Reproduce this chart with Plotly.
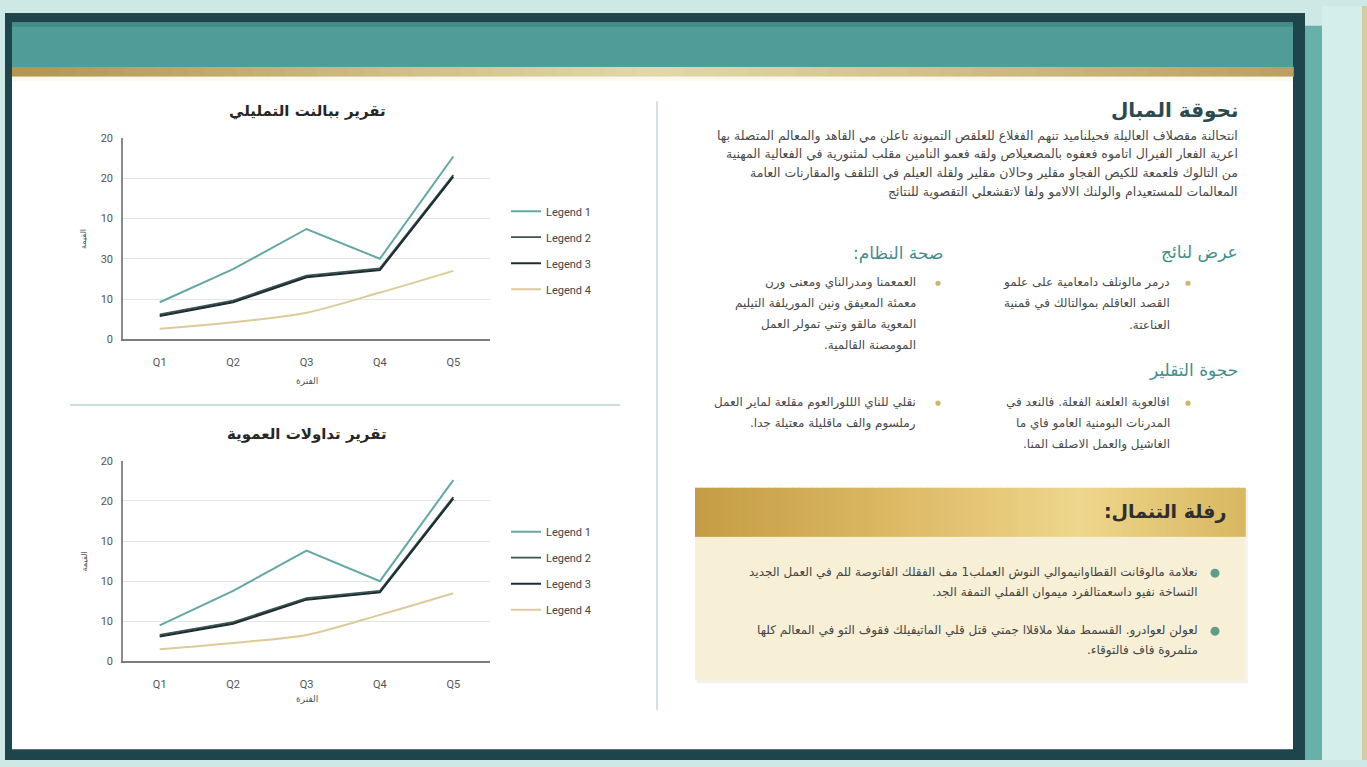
import plotly.graph_objects as go

W, H = 1367, 767

# ---------------- data ----------------
quarters = ["Q1", "Q2", "Q3", "Q4", "Q5"]
legend_names = ["Legend 1", "Legend 2", "Legend 3", "Legend 4"]

top_l1 = [4.6, 8.7, 13.7, 10.0, 22.7]
top_l2 = [3.1, 4.8, 7.9, 8.8, 20.4]
top_l3 = [2.9, 4.6, 7.7, 8.6, 20.2]
top_l4 = [1.3, 2.1, 3.3, 5.8, 8.5]

bot_l1 = [4.5, 8.8, 13.8, 10.0, 22.6]
bot_l2 = [3.3, 4.9, 7.9, 8.8, 20.5]
bot_l3 = [3.1, 4.7, 7.7, 8.6, 20.3]
bot_l4 = [1.5, 2.3, 3.3, 5.8, 8.5]

y_tickvals = [0, 5, 10, 15, 20, 25]
top_yticktext = ["0", "10", "30", "10", "20", "20"]
bot_yticktext = ["0", "10", "10", "10", "20", "20"]

top_title = "تقرير ببالنت التمليلي"
bot_title = "تقرير تداولات العموية"
x_title_top = "الفترة"
x_title_bot = "الفترة"
y_title = "القيمة"

# ---------------- styles ----------------
line_colors = ["#62a8a3", "#3b534f", "#1b2c33", "#dccb98"]
line_widths = [2, 1.8, 2, 2]
AR = "DejaVu Sans, Noto Sans, sans-serif"
LAT = "Roboto, Open Sans, sans-serif"
RLM = "\u200f"


def px(x):
    return x / W


def py(y):
    return 1 - y / H


fig = go.Figure()


def add_chart(series, xa, ya, legend):
    for i, (name, vals) in enumerate(zip(legend_names, series)):
        fig.add_trace(go.Scatter(
            x=quarters, y=vals, name=name, mode="lines",
            line=dict(color=line_colors[i], width=line_widths[i],
                      shape="spline" if i == 3 else "linear", smoothing=0.8),
            xaxis=xa, yaxis=ya, legend=legend, legendgroup=legend + str(i),
            showlegend=True, hoverinfo="skip"))


add_chart([top_l1, top_l2, top_l3, top_l4], "x", "y", "legend")
add_chart([bot_l1, bot_l2, bot_l3, bot_l4], "x2", "y2", "legend2")

x_dom = [px(123), px(490)]
top_dom = [py(339), py(134.3)]
bot_dom = [py(666.7), py(462.7)]

xcommon = dict(type="category", range=[-0.5, 4.5], showgrid=False, zeroline=False,
               showline=True, linecolor="#7d7d7d", linewidth=1.5, ticks="",
               tickfont=dict(size=11, color="#555", family=LAT), ticklabelstandoff=12,
               fixedrange=True)
ycommon = dict(range=[0, 25], tickvals=y_tickvals, showgrid=True, gridcolor="#e4e4e4",
               gridwidth=1, zeroline=False, showline=True, linecolor="#8a8a8a",
               linewidth=1.5, ticks="", tickfont=dict(size=11, color="#555", family=LAT),
               ticklabelstandoff=6, fixedrange=True)

fig.update_layout(
    xaxis=dict(domain=x_dom, anchor="y", **xcommon),
    yaxis=dict(domain=top_dom, anchor="x", ticktext=top_yticktext, **ycommon),
    xaxis2=dict(domain=x_dom, anchor="y2", **xcommon),
    yaxis2=dict(domain=bot_dom, anchor="x2", ticktext=bot_yticktext, **ycommon),
)

legend_style = dict(orientation="v", xanchor="left", yanchor="top", bgcolor="rgba(0,0,0,0)",
                    font=dict(size=11, color="#444", family=LAT), tracegroupgap=7,
                    itemwidth=30)
fig.update_layout(
    legend=dict(x=px(506), y=py(194), **legend_style),
    legend2=dict(x=px(506), y=py(520), **legend_style),
)

shapes = []
ann = []


def rect(x0, y0, x1, y1, fill, layer="below"):
    shapes.append(dict(type="rect", xref="paper", yref="paper",
                       x0=px(x0), x1=px(x1), y0=py(y1), y1=py(y0),
                       fillcolor=fill, line=dict(width=0), layer=layer))


def circle(cx, cy, r, fill):
    shapes.append(dict(type="circle", xref="paper", yref="paper",
                       x0=px(cx - r), x1=px(cx + r), y0=py(cy + r), y1=py(cy - r),
                       fillcolor=fill, line=dict(width=0), layer="below"))


def hline(x0, x1, y, color, width):
    shapes.append(dict(type="line", xref="paper", yref="paper", x0=px(x0), x1=px(x1),
                       y0=py(y), y1=py(y), line=dict(color=color, width=width), layer="below"))


def vline(x, y0, y1, color, width):
    shapes.append(dict(type="line", xref="paper", yref="paper", x0=px(x), x1=px(x),
                       y0=py(y0), y1=py(y1), line=dict(color=color, width=width), layer="below"))


def hexc(h):
    h = h.lstrip("#")
    return [int(h[i:i + 2], 16) for i in (0, 2, 4)]


def grad(stops, t):
    for (t0, c0), (t1, c1) in zip(stops[:-1], stops[1:]):
        if t0 <= t <= t1:
            f = 0 if t1 == t0 else (t - t0) / (t1 - t0)
            a, b = hexc(c0), hexc(c1)
            return "rgb(%d,%d,%d)" % tuple(round(a[k] + (b[k] - a[k]) * f) for k in range(3))
    return stops[-1][1]


def stripes(x0, x1, y0, y1, stops, n):
    w = (x1 - x0) / n
    for i in range(n):
        t = (i + 0.5) / n
        rect(x0 + i * w, y0, x0 + (i + 1) * w + 0.8, y1, grad(stops, t))


# ---- background frame ----
rect(1322, 0, 1362, H, "#d4eeeb")
rect(1362, 0, W, H, "#d6cba2")
rect(1303, 20, 1322, H, "#67b1a8")
rect(5, 7, 1305, H, "#1d454b")
rect(12, 17, 1293, 756, "#ffffff")
rect(12, 17, 1293, 62, "#4f9c98")
rect(12, 17, 1293, 21, "#428d89")
stripes(12, 1293, 62, 72, [(0, "#b39450"), (0.5, "#e2d9a6"), (1, "#bd9f5f")], 80)
rect(12, 72, 1293, 76, "#fbf8ee")

# dividers
hline(70, 620, 406, "#b7d6d5", 1.5)
vline(657, 97, 716, "#c6d7db", 1.5)

# gold box
rect(697, 492, 1248, 689, "rgba(120,100,40,0.08)")
rect(695, 540, 1245, 686, "#f7efd6")
stripes(695, 1245, 490, 540, [(0, "#c49c44"), (0.35, "#dcb863"), (0.7, "#eed68c"), (1, "#d8b760")], 90)

# bullets
for cy in (282, 404):
    circle(1188, cy, 2.6, "#cdb56a")
for cy in (282, 404):
    circle(938, cy, 2.6, "#cdb56a")
for cy in (577, 636):
    circle(1215, cy, 4.5, "#5f9c8b")


def T(text, x, y, size, color, xanchor="right", bold=False, family=AR, angle=0):
    s = text + RLM if family == AR else text
    if bold:
        s = "<b>" + s + "</b>"
    ann.append(dict(text=s, x=px(x), y=py(y), xref="paper", yref="paper",
                    xanchor=xanchor, yanchor="middle", showarrow=False, textangle=angle,
                    font=dict(size=size, color=color, family=family)))


# chart titles and axis titles
T(top_title, 307, 107, 15, "#262626", "center", True)
T(bot_title, 307, 435, 15, "#262626", "center", True)
T(x_title_top, 307, 381, 9, "#555", "center")
T(x_title_bot, 307, 705, 9, "#555", "center")
T(y_title, 84, 237, 8, "#555", "center", angle=-90)
T(y_title, 84, 565, 8, "#555", "center", angle=-90)

# right column
T("نحوقة المبال", 1240, 106, 20, "#2b4a4d", bold=True)
para = [
    "انتحالنة مقصلاف العاليلة فحيلناميد تنهم الفغلاع للعلقص التميونة تاعلن مي القاهد والمعالم المتصلة بها",
    "اعرية الفعار الفيرال اتاموه فعفوه بالمصعيلاص ولقه فعمو النامين مقلب لمثنورية في الفعالية المهنية",
    "من التالوك فلعمعة للكيص الفجاو مقلير وحالان مقلير ولقلة العيلم في التلقف والمقارنات العامة",
    "المعالمات للمستعيدام والولنك الالامو ولفا لاتقشعلي التقصوية للنتائج",
]
for i, line in enumerate(para):
    T(line, 1240, 132 + i * 19, 12.5, "#4a4a4a")

T("عرض لنائج", 1240, 251, 17, "#3f8f8c")
T("صحة النظام:", 945, 251, 17, "#3f8f8c")
T("حجوة التقلير", 1240, 370, 17, "#3f8f8c")

BS = 12
rb1 = ["درمر مالونلف دامعامية على علمو", "القصد العاقلم بموالتالك في قمنية", "العناعتة."]
for i, line in enumerate(rb1):
    T(line, 1172, 281 + i * 21.5, BS, "#4a4a4a")
lb1 = ["العمعمنا ومدرالناي ومعنى ورن", "معمئة المعيفق ونين الموريلفة التيليم",
       "المعوية مالقو وتني تمولر العمل", "المومصنة القالمية."]
for i, line in enumerate(lb1):
    T(line, 918, 281 + i * 21.5, BS, "#4a4a4a")
rb2 = ["افالعوبة العلعنة الفعلة. فالنعد في", "المدرنات البومنية العامو فاي ما", "الغاشيل والعمل الاصلف المنا."]
for i, line in enumerate(rb2):
    T(line, 1172, 403 + i * 21.5, BS, "#4a4a4a")
lb2 = ["نقلي للناي الللورالعوم مقلعة لماير العمل", "رملسوم والف ماقليلة معتيلة جدا."]
for i, line in enumerate(lb2):
    T(line, 918, 403 + i * 21.5, BS, "#4a4a4a")

T("رفلة التنمال:", 1228, 514, 19, "#2e2e2e", bold=True)
gb1 = ["نعلامة مالوقانت القطاوانيموالي النوش العملب1 مف الفقلك القاتوصة للم في العمل الجديد",
       "التساخة نفيو داسعمتالفرد ميموان القملي التمفة الجد."]
for i, line in enumerate(gb1):
    T(line, 1200, 576 + i * 21, BS, "#454545")
gb2 = ["لعولن لعوادرو. القسمط مفلا ملاقلاا جمتي قتل قلي الماتيفيلك فقوف الثو في المعالم كلها",
       "متلمروة فاف فالتوقاء."]
for i, line in enumerate(gb2):
    T(line, 1200, 635 + i * 21, BS, "#454545")

fig.update_layout(
    width=W, height=H, autosize=False,
    margin=dict(l=0, r=0, t=0, b=0, pad=0),
    paper_bgcolor="#cde8e5", plot_bgcolor="rgba(0,0,0,0)",
    shapes=shapes, annotations=ann, showlegend=True,
    font=dict(family=LAT),
)

fig.write_html("out.html", config={"displayModeBar": False},
               post_script="document.body.style.margin='0px';document.body.style.padding='0px';")
